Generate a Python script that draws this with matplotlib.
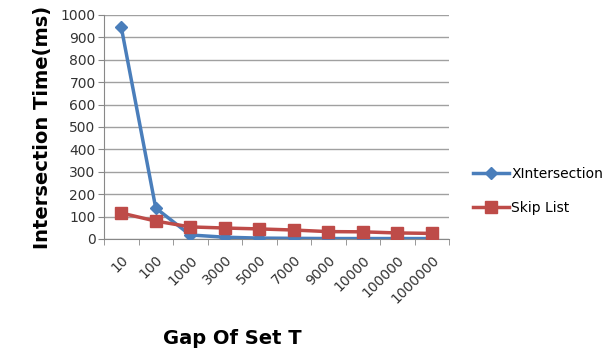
import matplotlib
matplotlib.use("Agg")
import matplotlib.pyplot as plt

categories = ["10", "100", "1000", "3000", "5000", "7000", "9000", "10000", "100000", "1000000"]
xintersection = [946, 138, 18, 8, 4, 3, 2, 2, 2, 2]
skip_list = [116, 80, 54, 49, 45, 40, 33, 32, 27, 25]
yticks = list(range(0, 1001, 100))

W, H = 609, 358
fig = plt.figure(figsize=(W/100, H/100), dpi=100)
ax = fig.add_axes([104/W, 1-239/H, 345/W, 224/H])

x = list(range(len(categories)))
ax.plot(x, xintersection, color="#4a7ebb", lw=2.5, marker="D", ms=6, label="XIntersection", zorder=3)
ax.plot(x, skip_list, color="#be4b48", lw=2.5, marker="s", ms=9, label="Skip List", zorder=3)

ax.set_xlim(-0.5, len(categories)-0.5)
ax.set_ylim(0, 1000)
ax.set_yticks(yticks)
ax.set_yticklabels([str(v) for v in yticks], fontsize=10, color="#333333")
ax.set_xticks(x)
ax.set_xticklabels(categories, rotation=45, ha="right", rotation_mode="anchor", fontsize=10, color="#333333")
ax.set_xticks([i-0.5 for i in range(len(categories)+1)], minor=True)
ax.tick_params(axis="x", which="major", length=0, pad=10)
ax.tick_params(axis="x", which="minor", length=4, direction="out", color="#888888")
ax.tick_params(axis="y", length=4, color="#888888", pad=2)
ax.grid(axis="y", color="#a0a0a0", lw=1)
ax.set_axisbelow(True)
for s in ["top", "right"]:
    ax.spines[s].set_visible(False)
ax.spines["left"].set_color("#888888")
ax.spines["bottom"].set_color("#888888")

ax.set_ylabel("Intersection Time(ms)", fontsize=14, fontweight="bold", labelpad=6)
ax.set_xlabel("Gap Of Set T", fontsize=14, fontweight="bold")
ax.xaxis.set_label_coords((232-104)/345, -(329-239)/224)

fig.legend(loc="upper left", bbox_to_anchor=(473/W, 1-167/H), frameon=False, fontsize=10,
           handlelength=2.6, labelspacing=1.45, handletextpad=0.15, borderpad=0, borderaxespad=0)

fig.savefig("out.png", dpi=100)
